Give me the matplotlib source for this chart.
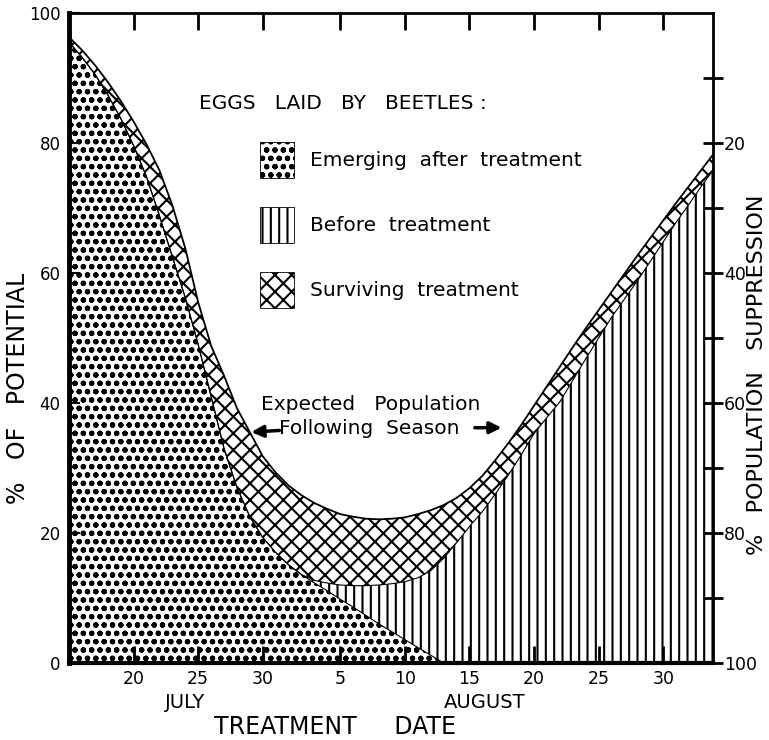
import matplotlib.pyplot as plt
from matplotlib.patches import Rectangle

# treatment date as day count from July 1 (Aug 1 = 32)
days = list(range(15, 66))

# % of potential: top of the dotted area (emerging after treatment)
emerging_top = [95.5, 93.2, 90.6, 87.4, 83.8, 79.6, 74.8, 68.8, 62.5, 56.2,
                49.0, 41.0, 33.0, 27.0, 22.5, 19.3, 17.0, 15.1, 13.6, 12.3,
                11.1, 9.8, 8.6, 7.3, 6.0, 4.8, 3.6, 2.4, 1.2, 0.0,
                0, 0, 0, 0, 0, 0, 0, 0, 0, 0,
                0, 0, 0, 0, 0, 0, 0, 0, 0, 0, 0]

# top of the vertical-line area (laid before treatment)
before_top = [95.5, 93.2, 90.6, 87.4, 83.8, 79.6, 74.8, 68.8, 62.5, 56.2,
              49.0, 41.0, 33.0, 27.0, 22.5, 19.3, 17.0, 15.1, 13.6, 12.7,
              12.3, 12.0, 11.9, 11.9, 12.0, 12.2, 12.5, 13.1, 14.2, 16.1,
              18.5, 21.0, 23.3, 26.0, 28.9, 32.0, 35.3, 37.8, 40.2, 43.5,
              46.8, 50.0, 53.2, 56.0, 58.8, 61.8, 64.8, 67.8, 70.6, 73.5, 76.2]

# top of the cross-hatched area (surviving treatment) = expected population
surviving_top = [96.3, 94.3, 92.0, 89.4, 86.5, 83.3, 79.8, 75.8, 70.4, 63.8,
                 55.5, 48.8, 44.2, 39.2, 35.5, 31.8, 29.3, 27.3, 25.8, 24.6,
                 23.7, 22.9, 22.5, 22.2, 22.1, 22.2, 22.4, 22.9, 23.5, 24.3,
                 25.4, 26.9, 28.8, 31.2, 33.8, 36.6, 39.6, 42.6, 45.6, 48.6,
                 51.5, 54.3, 57.1, 59.9, 62.7, 65.4, 68.1, 70.8, 73.4, 76.0, 78.6]

tick_days = [20, 25, 30, 36, 41, 46, 51, 56, 61]
tick_labels = ['20', '25', '30', '5', '10', '15', '20', '25', '30']
left_ticks = [0, 20, 40, 60, 80, 100]
right_ticks = [20, 40, 60, 80, 100]
right_minor = [10, 30, 50, 70, 90]

plt.rcParams['hatch.linewidth'] = 1.5
plt.rcParams['font.family'] = 'DejaVu Sans'

fig = plt.figure(figsize=(7.69, 7.40), dpi=100)
ax = fig.add_axes([69/769, 77/740, 644/769, 650/740])

ax.fill_between(days, 0, emerging_top, facecolor='white', edgecolor='black',
                hatch='oo..', linewidth=0)
ax.fill_between(days, emerging_top, before_top, facecolor='white',
                edgecolor='black', hatch='||', linewidth=0)
ax.fill_between(days, before_top, surviving_top, facecolor='white',
                edgecolor='black', hatch='xx', linewidth=0)
ax.plot(days, surviving_top, 'k-', lw=1.3)
ax.plot(days, before_top, 'k-', lw=0.8)
ax.plot(days, emerging_top, 'k-', lw=0.8)

ax.set_xlim(15, 64.85)
ax.set_ylim(0, 100)
ax.set_xticks(tick_days, tick_labels)
ax.set_yticks(left_ticks)
ax.tick_params(axis='x', direction='in', top=True, length=12, width=2,
               labelsize=12.5, pad=5)
ax.tick_params(axis='y', direction='in', length=8, width=1.5,
               labelsize=12, pad=6)
for side, w in [('left', 3.5), ('bottom', 3), ('top', 2), ('right', 2)]:
    ax.spines[side].set_linewidth(w)

ax2 = ax.twinx()
ax2.set_ylim(100, 0)
ax2.set_yticks(right_ticks)
ax2.set_yticks(right_minor, minor=True)
ax2.tick_params(axis='y', which='both', direction='inout', length=14,
                width=2, labelsize=12.5, pad=1)
for side in ['left', 'bottom', 'top', 'right']:
    ax2.spines[side].set_visible(False)

# legend drawn by hand
ax.text(0.4255, 0.8615, 'EGGS   LAID   BY   BEETLES :', transform=ax.transAxes,
        ha='center', va='center', fontsize=14.5)
legend_items = [('oo..', 'Emerging  after  treatment', 0.746),
                ('||', 'Before  treatment', 0.646),
                ('xx', 'Surviving  treatment', 0.546)]
for hatch, label, y0 in legend_items:
    ax.add_patch(Rectangle((0.2966, y0), 0.0528, 0.055, transform=ax.transAxes,
                           facecolor='white', edgecolor='black', hatch=hatch,
                           linewidth=0.6))
    ax.text(0.374, y0 + 0.0275, label, transform=ax.transAxes,
            ha='left', va='center', fontsize=14.5)

ax.text(0.469, 0.397, 'Expected   Population', transform=ax.transAxes,
        ha='center', va='center', fontsize=14.5)
ax.text(0.466, 0.3615, 'Following  Season', transform=ax.transAxes,
        ha='center', va='center', fontsize=14.5)
ax.annotate('', xy=(28.9, 35.5), xytext=(31.5, 35.8),
            arrowprops=dict(arrowstyle='-|>,head_length=0.7,head_width=0.35',
                            lw=2.5, color='black'))
ax.annotate('', xy=(48.7, 36.2), xytext=(46.2, 36.2),
            arrowprops=dict(arrowstyle='-|>,head_length=0.7,head_width=0.35',
                            lw=2.5, color='black'))

fig.text(185/769, 1 - 703/740, 'JULY', ha='center', va='center', fontsize=14)
fig.text(485/769, 1 - 703/740, 'AUGUST', ha='center', va='center', fontsize=14)
fig.text(335/769, 1 - 727/740, 'TREATMENT     DATE', ha='center', va='center',
         fontsize=17)
fig.text(18/769, 1 - 388/740, '%   OF   POTENTIAL', rotation=90,
         ha='center', va='center', fontsize=17)
fig.text(757/769, 1 - 375/740, '%   POPULATION   SUPPRESSION', rotation=90,
         ha='center', va='center', fontsize=16)

fig.savefig('out.png', dpi=100)
